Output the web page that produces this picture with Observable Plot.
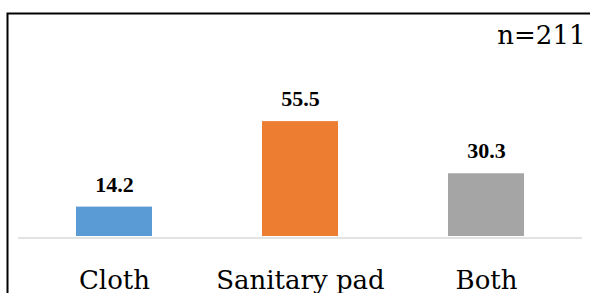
<!DOCTYPE html>
<html>
<head>
<meta charset="utf-8">
<script src="https://cdn.jsdelivr.net/npm/d3@7"></script>
<script src="https://cdn.jsdelivr.net/npm/@observablehq/plot@0.6"></script>
<style>
  html, body { margin: 0; padding: 0; background: #fff; overflow: hidden; }
  #chart svg { display: block; }
</style>
</head>
<body>
<div id="chart"></div>
<script>
const categories = ["Cloth", "Sanitary pad", "Both"];
const values = [14.2, 55.5, 30.3];
const sampleLabel = "n=211";
const colors = ["#5b9bd5", "#ed7d31", "#a5a5a5"];

const data = categories.map((c, i) => ({category: c, value: values[i]}));

const chart = Plot.plot({
  width: 590,
  height: 293,
  marginLeft: 18,
  marginRight: 8,
  marginTop: 29,
  marginBottom: 57,
  style: {background: "#fff", color: "#000", overflow: "visible"},
  x: {domain: categories, paddingInner: 0.592, paddingOuter: 0.308, label: null},
  y: {domain: [0, 100], axis: null},
  color: {domain: categories, range: colors},
  marks: [
    Plot.frame({stroke: "#000", strokeWidth: 2, insetLeft: -11, insetTop: -16, insetRight: -30, insetBottom: -80}),
    Plot.barY(data, {x: "category", y: "value", fill: "category"}),
    Plot.ruleY([0], {stroke: "#d9d9d9", strokeWidth: 1.5, dy: 1.5}),
    Plot.text(data, {
      x: "category", y: "value", text: d => d.value.toFixed(1),
      dy: -15.5, lineAnchor: "bottom", fontWeight: "bold", fontSize: 22,
      fontFamily: "Liberation Serif", fill: "#000"
    }),
    Plot.axisX({
      tickSize: 0, tickPadding: 34, fontSize: 26, fontFamily: "DejaVu Serif",
      fill: "#000", label: null
    }),
    Plot.text([sampleLabel], {
      text: d => d, frameAnchor: "top-right", dx: 3, dy: 14, lineAnchor: "bottom",
      textAnchor: "end", fontSize: 26, fontFamily: "DejaVu Serif", fill: "#000"
    })
  ]
});
document.getElementById("chart").appendChild(chart);
</script>
</body>
</html>
